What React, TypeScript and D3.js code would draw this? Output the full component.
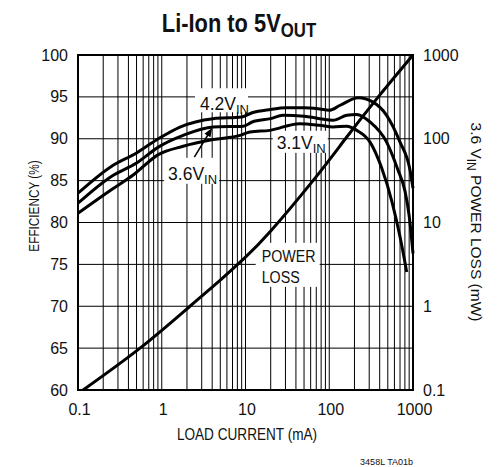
import * as d3 from "d3";

const W = 499;
const H = 467;

// axis ticks
const xTickValues = [0.1, 1, 10, 100, 1000];
const xTickLabels = ["0.1", "1", "10", "100", "1000"];
const effTicks = [60, 65, 70, 75, 80, 85, 90, 95, 100];
const lossTickValues = [0.1, 1, 10, 100, 1000];
const lossTickLabels = ["0.1", "1", "10", "100", "1000"];

// efficiency curves (load current mA, efficiency %)
const cur42 = [0.1, 0.25, 0.5, 0.91, 1.65, 4.1, 9, 12, 20, 30, 50, 77, 100, 135, 222, 330, 484, 700, 920, 1000];
const eff42 = [83.5, 86.7, 88.3, 90.0, 91.4, 92.4, 92.6, 93.1, 93.5, 93.7, 93.7, 93.55, 93.4, 94.0, 94.9, 94.4, 92.8, 89.6, 86.3, 84.1];

const cur36 = [0.1, 0.25, 0.5, 0.91, 1.8, 4.1, 9.4, 12, 20, 28, 50, 77, 111, 162, 213, 307, 484, 660, 800, 900, 1000];
const eff36 = [82.3, 85.5, 87.1, 89.0, 90.4, 91.4, 91.5, 92.0, 92.4, 92.8, 92.7, 92.4, 92.2, 92.8, 92.9, 92.0, 89.6, 86.3, 83.8, 80.8, 76.3];

const cur31 = [0.1, 0.25, 0.46, 0.91, 1.8, 4.1, 8.6, 11.3, 19.5, 44, 77, 111, 162, 213, 307, 423, 560, 700, 841];
const eff31 = [81.1, 83.9, 85.7, 88.1, 89.1, 89.9, 90.4, 90.8, 91.0, 91.8, 91.6, 91.4, 91.5, 91.0, 89.6, 86.5, 82.5, 78.3, 74.1];

// 3.6V power loss (mA, mW)
const lossCurrent = [0.115, 0.55, 2.17, 5, 10, 20, 64, 156, 385, 1000];
const lossMw = [0.1, 0.316, 1, 2.05, 3.85, 7.9, 31.6, 100, 316, 1000];

const PL = 78, PR = 413, PT = 55, PB = 390;

function Label({ x, y, size, sx = 1, anchor = "start", rotate = 0, weight = "normal", baseline, children }: any) {
  return (
    <g transform={`translate(${x},${y}) rotate(${rotate}) scale(${sx},1)`}>
      <text fontSize={size} textAnchor={anchor} fontWeight={weight} dominantBaseline={baseline} fill="#111">
        {children}
      </text>
    </g>
  );
}

export default function App() {
  const x = d3.scaleLog().domain([0.1, 1000]).range([PL, PR]);
  const y = d3.scaleLinear().domain([60, 100]).range([PB, PT]);
  const y2 = d3.scaleLog().domain([0.1, 1000]).range([PB, PT]);

  const effLine = (cs: number[], es: number[]) =>
    d3
      .line<number>()
      .x((d) => x(cs[d]))
      .y((d) => y(es[d]))
      .curve(d3.curveMonotoneX)(d3.range(cs.length)) as string;

  const lossPath = d3
    .line<number>()
    .x((d) => x(lossCurrent[d]))
    .y((d) => y2(lossMw[d]))
    .curve(d3.curveNatural)(d3.range(lossCurrent.length)) as string;

  const gridX = x.ticks();

  // annotation anchors in data space
  const l42 = [x(2.86), y(93.4)];
  const l36 = [x(1.19), y(85.1)];
  const l31 = [x(23.6), y(88.8)];
  const lLoss = [x(15.6), y(75.3)];
  const tip = [x(4.0), y(91.3)];
  const tail = [x(2.45), y(87.8)];
  const ang = Math.atan2(tip[1] - tail[1], tip[0] - tail[0]);
  const ah = 9, aw = 3.5;
  const head = [
    tip,
    [tip[0] - ah * Math.cos(ang) + aw * Math.sin(ang), tip[1] - ah * Math.sin(ang) - aw * Math.cos(ang)],
    [tip[0] - ah * Math.cos(ang) - aw * Math.sin(ang), tip[1] - ah * Math.sin(ang) + aw * Math.cos(ang)],
  ];

  return (
    <div style={{ position: "fixed", left: 0, top: 0 }}>
      <svg width={W} height={H} style={{ display: "block", background: "#fff" }} fontFamily="'Liberation Sans', Arial, sans-serif">
        {/* title */}
        <Label x={239} y={32} size={26} sx={0.84} anchor="middle" weight="bold">
          Li-Ion to 5V<tspan fontSize={20} dy={5}>OUT</tspan>
        </Label>

        {/* grid */}
        {gridX.map((v, i) => (
          <line key={"gx" + i} x1={x(v)} x2={x(v)} y1={PT} y2={PB} stroke="#000" strokeWidth={1} />
        ))}
        {effTicks.map((v) => (
          <line key={"gy" + v} x1={PL} x2={PR} y1={y(v)} y2={y(v)} stroke="#000" strokeWidth={1} />
        ))}

        {/* label boxes */}
        <rect x={l42[0] - 5} y={l42[1] - 22} width={53} height={24} fill="#fff" />
        <rect x={l36[0] - 4} y={l36[1] - 22} width={55} height={26} fill="#fff" />
        <rect x={l31[0] - 4} y={l31[1] - 18} width={55} height={22} fill="#fff" />
        <rect x={lLoss[0] - 6} y={lLoss[1] - 19} width={64} height={44} fill="#fff" />

        <rect x={PL} y={PT} width={PR - PL} height={PB - PT} fill="none" stroke="#000" strokeWidth={2} />

        {/* curves */}
        <path d={effLine(cur42, eff42)} fill="none" stroke="#000" strokeWidth={3} />
        <path d={effLine(cur36, eff36)} fill="none" stroke="#000" strokeWidth={3} />
        <path d={effLine(cur31, eff31)} fill="none" stroke="#000" strokeWidth={3} />
        <path d={lossPath} fill="none" stroke="#000" strokeWidth={3} />

        {/* annotations */}
        <Label x={l42[0]} y={l42[1]} size={17.5}>
          4.2V<tspan fontSize={13} dy={4}>IN</tspan>
        </Label>
        <Label x={l36[0]} y={l36[1]} size={17.5}>
          3.6V<tspan fontSize={13} dy={4}>IN</tspan>
        </Label>
        <Label x={l31[0]} y={l31[1]} size={17.5}>
          3.1V<tspan fontSize={13} dy={4}>IN</tspan>
        </Label>
        <Label x={lLoss[0]} y={lLoss[1]} size={17} sx={0.84}>POWER</Label>
        <Label x={lLoss[0]} y={lLoss[1] + 21} size={17} sx={0.84}>LOSS</Label>
        <line x1={tail[0]} y1={tail[1]} x2={tip[0] - 6 * Math.cos(ang)} y2={tip[1] - 6 * Math.sin(ang)} stroke="#000" strokeWidth={1.5} />
        <polygon points={head.map((p) => p.join(",")).join(" ")} fill="#000" />

        {/* left ticks */}
        {effTicks.map((v) => (
          <Label key={"ly" + v} x={68} y={y(v)} size={16} anchor="end" baseline="central">
            {String(v)}
          </Label>
        ))}
        {/* right ticks */}
        {lossTickValues.map((v, i) => (
          <Label key={"ry" + i} x={423} y={y2(v)} size={16} baseline="central">
            {lossTickLabels[i]}
          </Label>
        ))}
        {/* bottom ticks */}
        {xTickValues.map((v, i) => (
          <Label key={"bx" + i} x={x(v) + 1.5} y={415} size={16} anchor="middle">
            {xTickLabels[i]}
          </Label>
        ))}

        {/* axis titles */}
        <Label x={247} y={440} size={16} sx={0.85} anchor="middle">
          LOAD CURRENT (mA)
        </Label>
        <Label x={39} y={206} size={15.5} sx={0.76} anchor="middle" rotate={-90}>
          EFFICIENCY (%)
        </Label>
        <Label x={471} y={222} size={15.5} anchor="middle" rotate={90}>
          3.6 V<tspan fontSize={12} dy={4}>IN</tspan>
          <tspan dy={-4}> POWER LOSS (mW)</tspan>
        </Label>

        <Label x={413} y={465} size={9} anchor="end">
          3458L TA01b
        </Label>
      </svg>
    </div>
  );
}
